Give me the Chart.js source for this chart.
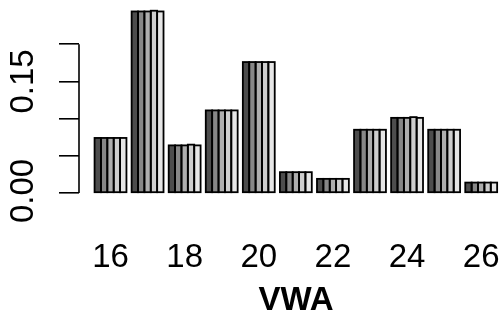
<!DOCTYPE html>
<html>
<head>
<meta charset="utf-8">
<script src="https://cdn.jsdelivr.net/npm/chart.js@4/dist/chart.umd.min.js"></script>
<style>
  html, body { margin: 0; padding: 0; background: #fff; }
  #wrap { width: 503px; height: 322px; }
</style>
</head>
<body>
<div id="wrap"><canvas id="c" width="503" height="322"></canvas></div>
<script>
// Allele categories and the five grouped frequency series
const alleles = [16, 17, 18, 19, 20, 21, 22, 23, 24, 25, 26];
const series1 = [0.074, 0.244, 0.064, 0.111, 0.176, 0.028, 0.019, 0.085, 0.101, 0.085, 0.014];
const series2 = [0.074, 0.244, 0.064, 0.111, 0.176, 0.028, 0.019, 0.085, 0.101, 0.085, 0.014];
const series3 = [0.074, 0.244, 0.064, 0.111, 0.176, 0.028, 0.019, 0.085, 0.101, 0.085, 0.014];
const series4 = [0.074, 0.245, 0.065, 0.111, 0.176, 0.028, 0.019, 0.085, 0.102, 0.085, 0.014];
const series5 = [0.074, 0.244, 0.064, 0.111, 0.176, 0.028, 0.019, 0.085, 0.101, 0.085, 0.014];

const xTicks = [16, 18, 20, 22, 24, 26];
const yTicks = [0, 0.05, 0.10, 0.15, 0.20];
const yTickLabels = ['0.00', '', '', '0.15', ''];
const xTitle = 'VWA';

const shades = ['#4D4D4D', '#878787', '#AEAEAE', '#CECECE', '#E6E6E6'];
const allSeries = [series1, series2, series3, series4, series5];

const FONT = '"Liberation Sans", Arial, sans-serif';

const datasets = allSeries.map((vals, k) => ({
  data: alleles.map((a, i) => ({ x: a, y: vals[i] })),
  backgroundColor: shades[k],
  borderWidth: 0,
  categoryPercentage: 0.86,
  barPercentage: 1.0
}));

// Outline every bar with a stroke centred on its edges
const barOutline = {
  id: 'barOutline',
  afterDatasetsDraw(chart) {
    const ctx = chart.ctx;
    ctx.save();
    ctx.strokeStyle = '#000';
    ctx.lineWidth = 1.8;
    chart.data.datasets.forEach((ds, di) => {
      chart.getDatasetMeta(di).data.forEach(bar => {
        const { x, y, base, width } = bar.getProps(['x', 'y', 'base', 'width'], true);
        ctx.strokeRect(x - width / 2, y, width, base - y);
      });
    });
    ctx.restore();
  }
};

// Axis line, rotated y labels and bold axis title
const axisDecor = {
  id: 'axisDecor',
  afterDraw(chart) {
    const { ctx, chartArea, scales: { y } } = chart;
    ctx.save();
    ctx.strokeStyle = '#000';
    ctx.lineWidth = 1.6;
    ctx.beginPath();
    ctx.moveTo(chartArea.left, y.getPixelForValue(yTicks[0]));
    ctx.lineTo(chartArea.left, y.getPixelForValue(yTicks[yTicks.length - 1]));
    ctx.stroke();

    ctx.fillStyle = '#000';
    ctx.textAlign = 'center';
    ctx.textBaseline = 'alphabetic';
    ctx.font = '33px ' + FONT;
    yTicks.forEach((v, i) => {
      const lab = yTickLabels[i];
      if (!lab) return;
      ctx.save();
      ctx.translate(33, y.getPixelForValue(v) - (i === 0 ? 2 : 0));
      ctx.rotate(-Math.PI / 2);
      ctx.fillText(lab, 0, 0);
      ctx.restore();
    });

    ctx.font = 'bold 33px ' + FONT;
    ctx.fillText(xTitle, 296, 310);
    ctx.restore();
  }
};

new Chart(document.getElementById('c'), {
  type: 'bar',
  data: { datasets },
  options: {
    responsive: false,
    animation: false,
    layout: { padding: { top: 7, right: 3, left: 0, bottom: 0 } },
    plugins: { legend: { display: false }, tooltip: { enabled: false } },
    scales: {
      x: {
        type: 'linear',
        min: 15.15,
        max: 26.507,
        offset: false,
        grid: { display: false, drawTicks: false, offset: false },
        border: { display: false },
        afterBuildTicks: s => { s.ticks = xTicks.map(v => ({ value: v })); },
        ticks: {
          font: { family: FONT, size: 33 },
          color: '#000',
          padding: 45,
          maxRotation: 0,
          autoSkip: false,
          callback: v => String(v)
        },
        afterFit: s => { s.height = 129; s.paddingLeft = 0; s.paddingRight = 0; }
      },
      y: {
        min: 0,
        max: 0.25,
        afterBuildTicks: s => { s.ticks = yTicks.map(v => ({ value: v })); },
        grid: { drawOnChartArea: false, drawTicks: true, tickLength: 20, color: '#000', lineWidth: 1.6 },
        border: { display: false },
        ticks: { display: false },
        afterFit: s => { s.width = 79; s.paddingTop = 0; s.paddingBottom = 0; }
      }
    }
  },
  plugins: [barOutline, axisDecor]
});
</script>
</body>
</html>
